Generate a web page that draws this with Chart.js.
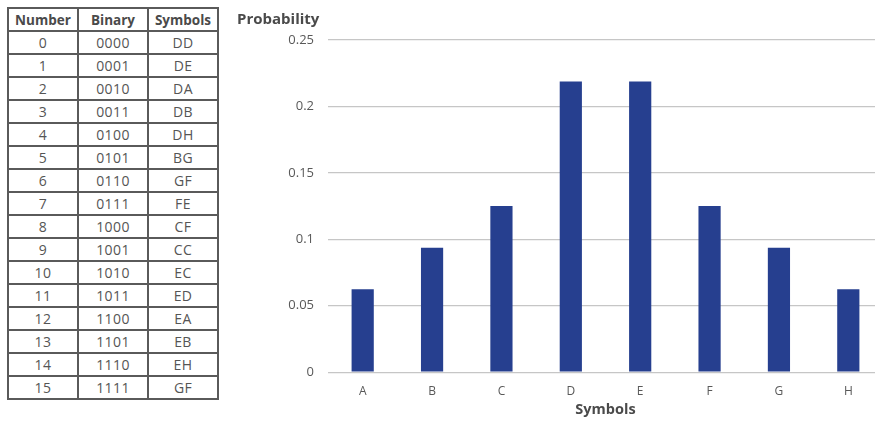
<!DOCTYPE html>
<html>
<head>
<meta charset="utf-8">
<script src="https://cdn.jsdelivr.net/npm/chart.js@4"></script>
<style>
  body { margin: 0; width: 875px; height: 421px; overflow: hidden; background: #fff; font-family: "Open Sans", sans-serif; position: relative; }
  table { position: absolute; left: 7px; top: 7px; border-collapse: collapse; color: #555; font-size: 14px; table-layout: fixed; }
  td, th { border: 2px solid #5a5a5a; height: 21px; padding: 0; text-align: center; line-height: 18px; }
  td { letter-spacing: 0.4px; }
  th { font-weight: bold; color: #4a4a4a; font-size: 13.5px; }
  .c1, .c2, .c3 { width: 68px; }
  #wrap { position: absolute; left: 232px; top: 0; width: 651px; height: 421px; }
</style>
</head>
<body>
<table id="tbl"></table>
<div id="wrap"><canvas id="chart"></canvas></div>
<script>
// table
const numbers = [0, 1, 2, 3, 4, 5, 6, 7, 8, 9, 10, 11, 12, 13, 14, 15]
const binary = ['0000','0001','0010','0011','0100','0101','0110','0111','1000','1001','1010','1011','1100','1101','1110','1111']
const pairs = ['DD','DE','DA','DB','DH','BG','GF','FE','CF','CC','EC','ED','EA','EB','EH','GF']

// chart
const symbols = ['A', 'B', 'C', 'D', 'E', 'F', 'G', 'H']
const probability = [0.0625, 0.09375, 0.125, 0.21875, 0.21875, 0.125, 0.09375, 0.0625]

var html = '<tr><th class="c1">Number</th><th class="c2">Binary</th><th class="c3">Symbols</th></tr>'
for (let i = 0; i < numbers.length; i++){
  html += `<tr><td>${numbers[i]}</td><td>${binary[i]}</td><td>${pairs[i]}</td></tr>`
}
document.getElementById('tbl').innerHTML = html

var textColor = '#595959'
new Chart(document.getElementById('chart'), {
  type: 'bar',
  data: {
    labels: symbols,
    datasets: [{
      data: probability,
      backgroundColor: '#263f8f',
      barPercentage: 0.32,
      categoryPercentage: 1
    }]
  },
  options: {
    animation: false,
    responsive: true,
    maintainAspectRatio: false,
    layout: { padding: { left: 5, right: 0, top: 0, bottom: 2 } },
    plugins: {
      legend: { display: false },
      tooltip: { enabled: false },
      title: {
        display: true,
        text: 'Probability',
        align: 'start',
        color: '#4a4a4a',
        font: { family: 'Open Sans', size: 15, weight: 'bold' },
        padding: { top: 11, bottom: 11 }
      }
    },
    scales: {
      x: {
        grid: { display: false, drawTicks: false },
        border: { display: false },
        ticks: { color: textColor, font: { family: 'Open Sans', size: 12 }, padding: 12 },
        title: {
          display: true,
          text: 'Symbols',
          color: '#4a4a4a',
          font: { family: 'Open Sans', size: 14.5, weight: 'bold' },
          padding: { top: -9, bottom: 0 }
        }
      },
      y: {
        min: 0,
        max: 0.25,
        afterFit: function(scale){ scale.width = 91 },
        grid: { color: '#c6c6c6', lineWidth: 1.2, drawTicks: false },
        border: { display: false },
        ticks: {
          stepSize: 0.05,
          color: textColor,
          font: { family: 'Open Sans', size: 13 },
          padding: 14,
          callback: function(value){ return String(Number(value.toFixed(2))) }
        }
      }
    }
  }
})
</script>
</body>
</html>
